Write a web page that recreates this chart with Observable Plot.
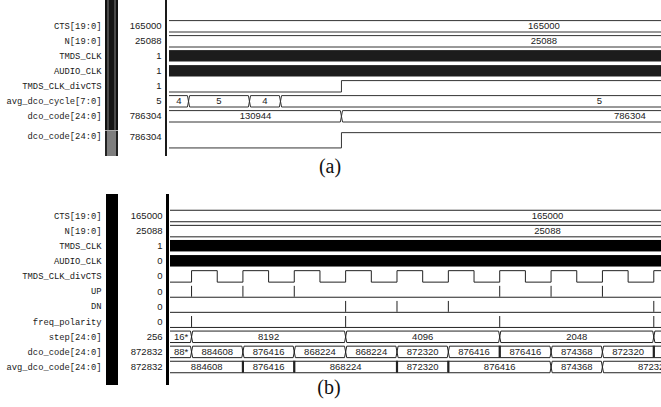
<!DOCTYPE html>
<html><head><meta charset="utf-8">
<script src="https://cdn.jsdelivr.net/npm/d3@7"></script>
<script src="https://cdn.jsdelivr.net/npm/@observablehq/plot@0.6"></script>
<style>
html,body{margin:0;padding:0;background:#fff;}
#root{position:relative;width:661px;height:407px;overflow:hidden;background:#fff;}
#root svg{position:absolute;left:0;}
.chrome{position:absolute;}
.cap{position:absolute;font-family:"Liberation Serif","Times New Roman",serif;font-size:20px;line-height:1;color:#111;transform:translate(-50%,-50%);white-space:nowrap;}
</style></head><body><div id="root"></div>
<script>
// ================= DATA =================
// ---- panel (a) : time in arbitrary units, visible window 0 .. 65.7, run ends at 100
const aStart = 0, aEnd = 100, aViewEnd = 65.7;
const aNames  = ["CTS[19:0]","N[19:0]","TMDS_CLK","AUDIO_CLK","TMDS_CLK_divCTS","avg_dco_cycle[7:0]","dco_code[24:0]","dco_code[24:0]"];
const aValues = ["165000","25088","1","1","1","5","786304","786304"];
const aKinds  = ["bus","bus","clock","clock","digital","bus","bus","analog"];
const aCtsLabels = ["165000"];
const aNLabels = ["25088"];
const aDivCtsEdges = [22.96];
const aAvgCycleEdges = [2.54, 10.68, 14.82];
const aAvgCycleLabels = ["4","5","4","5"];
const aDcoEdges = [22.96];
const aDcoLabels = ["130944","786304"];
const aDcoAnalogEdges = [22.96];

// ---- panel (b) : time in TMDS_CLK_divCTS periods, visible window -0.41 .. 9.15, run ends at 14.27
const bStart = -0.41, bEnd = 14.27, bViewEnd = 9.15;
const bNames  = ["CTS[19:0]","N[19:0]","TMDS_CLK","AUDIO_CLK","TMDS_CLK_divCTS","UP","DN","freq_polarity","step[24:0]","dco_code[24:0]","avg_dco_code[24:0]"];
const bValues = ["165000","25088","1","0","0","0","0","0","256","872832","872832"];
const bKinds  = ["bus","bus","clock","clock","digital","pulse","pulse","pulse","bus","bus","bus"];
const bCtsLabels = ["165000"];
const bNLabels = ["25088"];
const bDivCtsEdges = [0,0.5,1,1.5,2,2.5,3,3.5,4,4.5,5,5.5,6,6.5,7,7.5,8,8.5,9,9.5];
const bUpPulses = [0,1,2,6,7,8];
const bDnPulses = [3,4,5,9];
const bFreqPolPulses = [0,3,6,9];
const bStepEdges = [0,3,6,9];
const bStepLabels = ["16*","8192","4096","2048","1024"];
const bDcoEdges = [0,1,2,3,4,5,6,7,8,9];
const bDcoLabels = ["88*","884608","876416","868224","868224","872320","876416","876416","874368","872320","872320"];
const bDcoHeld = [6,9];
const bAvgEdges = [1,2,4,5,7,8,10];
const bAvgLabels = ["884608","876416","868224","872320","876416","874368","872320","872832"];
const bAvgHeld = [1,2,4,5];

// ================= SIGNAL TABLES =================
const aSignals = [
  {edges: [], labels: aCtsLabels},
  {edges: [], labels: aNLabels},
  {},
  {},
  {init: 0, edges: aDivCtsEdges},
  {edges: aAvgCycleEdges, labels: aAvgCycleLabels},
  {edges: aDcoEdges, labels: aDcoLabels},
  {init: 0, edges: aDcoAnalogEdges}
].map((s, i) => ({...s, name: aNames[i], value: aValues[i], kind: aKinds[i]}));

const bSignals = [
  {edges: [], labels: bCtsLabels},
  {edges: [], labels: bNLabels},
  {},
  {},
  {init: 0, edges: bDivCtsEdges},
  {pulses: bUpPulses},
  {pulses: bDnPulses},
  {pulses: bFreqPolPulses},
  {edges: bStepEdges, labels: bStepLabels},
  {edges: bDcoEdges, labels: bDcoLabels, held: bDcoHeld},
  {edges: bAvgEdges, labels: bAvgLabels, held: bAvgHeld}
].map((s, i) => ({...s, name: bNames[i], value: bValues[i], kind: bKinds[i]}));

// ================= RENDER =================
const FONT_NAME = '"Liberation Mono","DejaVu Sans Mono",monospace';
const FONT_VAL = '"Liberation Sans","DejaVu Sans",sans-serif';

function panel(cfg) {
  const {signals, start, end, viewEnd, width, height, marginLeft, yDomain, nameDx, valueDx, clockFill, stroke} = cfg;
  const d = 1.1 * (viewEnd - start) / (width - marginLeft);
  const H = 0.38, HT = 0.51;
  const outline = [], labels = [], held = [], clocks = [], levels = [], ticks = [], left = [];
  let r = -1;
  const t0 = start - 1, t1 = end;
  signals.forEach((s, i) => {
    const tall = s.kind === "analog";
    r += tall ? 1.6 : 1;
    const h = tall ? HT : H;
    left.push({name: s.name, value: s.value, y: tall ? r - 0.25 : r});
    if (s.kind === "bus") {
      const b = [t0, ...s.edges, t1];
      const hs = new Set(s.held || []);
      for (let k = 0; k < b.length - 1; k++) {
        const a0 = b[k], a1 = b[k + 1];
        const e0 = (k === 0 || hs.has(a0)) ? 0 : d;
        const e1 = (k === b.length - 2 || hs.has(a1)) ? 0 : d;
        const id = i + ":" + k;
        for (const [t, y] of [[a0, r], [a0 + e0, r - h], [a1 - e1, r - h], [a1, r], [a1 - e1, r + h], [a0 + e0, r + h], [a0, r]])
          outline.push({id, t, y});
        const c = ((k === 0 ? start : a0) + a1) / 2;
        if (c <= viewEnd) labels.push({t: c, y: r, label: s.labels[k] || ""});
      }
      (s.held || []).forEach(t => held.push({t, y1: r - h, y2: r + h}));
    } else if (s.kind === "clock") {
      clocks.push({x1: t0, x2: t1, y1: r - h, y2: r + h});
    } else if (s.kind === "digital" || s.kind === "analog") {
      let lv = s.init;
      const id = "d" + i;
      levels.push({id, t: t0, y: lv ? r - h : r + h});
      for (const e of s.edges) { lv = 1 - lv; levels.push({id, t: e, y: lv ? r - h : r + h}); }
      levels.push({id, t: t1, y: lv ? r - h : r + h});
    } else if (s.kind === "pulse") {
      const id = "p" + i;
      levels.push({id, t: t0, y: r + h}, {id, t: t1, y: r + h});
      s.pulses.forEach(p => ticks.push({t: p, y1: r + h, y2: r - 0.9 * h}));
    }
  });
  return Plot.plot({
    width, height, marginLeft, marginRight: 0, marginTop: 0, marginBottom: 0,
    style: {background: "transparent", overflow: "visible"},
    x: {domain: [start, viewEnd], axis: null},
    y: {domain: yDomain, reverse: true, axis: null},
    marks: [
      Plot.rect(clocks, {x1: "x1", x2: "x2", y1: "y1", y2: "y2", fill: clockFill, clip: true}),
      Plot.line(outline, {x: "t", y: "y", z: "id", stroke, strokeWidth: 1, clip: true}),
      Plot.line(levels, {x: "t", y: "y", z: "id", curve: "step-after", stroke, strokeWidth: 1, clip: true}),
      Plot.ruleX(ticks, {x: "t", y1: "y1", y2: "y2", stroke, strokeWidth: 1, clip: true}),
      Plot.ruleX(held, {x: "t", y1: "y1", y2: "y2", stroke, strokeWidth: 2.2, clip: true}),
      Plot.text(labels, {x: "t", y: "y", text: "label", fontFamily: FONT_VAL, fontSize: 9.5, fill: "#222", clip: true}),
      Plot.text(left, {frameAnchor: "left", y: "y", text: "name", textAnchor: "end", dx: nameDx, fontFamily: FONT_NAME, fontSize: 8.8, fill: "#1a1a1a"}),
      Plot.text(left, {frameAnchor: "left", y: "y", text: "value", textAnchor: "end", dx: valueDx, fontFamily: FONT_VAL, fontSize: 9.5, fill: "#1a1a1a"})
    ]
  });
}

const root = document.getElementById("root");

const svgA = panel({
  signals: aSignals, start: aStart, end: aEnd, viewEnd: aViewEnd,
  width: 661, height: 156, marginLeft: 169, yDomain: [-1.72, 8.68],
  nameDx: -68, valueDx: -8, clockFill: "#1c1c1c", stroke: "#333"
});
svgA.style.top = "0px";
root.appendChild(svgA);

const svgB = panel({
  signals: bSignals, start: bStart, end: bEnd, viewEnd: bViewEnd,
  width: 661, height: 191, marginLeft: 170, yDomain: [-1.424, 11.225],
  nameDx: -69, valueDx: -8, clockFill: "#000", stroke: "#222"
});
svgB.style.top = "194px";
root.appendChild(svgB);

// ---- viewer chrome (scrollbars, separators) and captions
function box(css) { const e = document.createElement("div"); e.className = "chrome"; Object.assign(e.style, css); root.appendChild(e); return e; }
box({left: "105px", top: "0px", width: "13px", height: "130px",
  background: "linear-gradient(to right,#111 0,#111 2px,#4a4a4a 2px,#4a4a4a 4px,#151515 4px,#151515 9px,#4a4a4a 9px,#4a4a4a 11px,#111 11px)"});
box({left: "105px", top: "130px", width: "13px", height: "26px",
  background: "linear-gradient(to right,#222 0,#222 2px,#7e7e7e 2px,#7e7e7e 11px,#222 11px)", borderTop: "1px solid #aaa", boxSizing: "border-box"});
box({left: "164.5px", top: "0px", width: "2.5px", height: "156px", background: "#1a1a1a"});
box({left: "106px", top: "194px", width: "12px", height: "191px", background: "#000"});
box({left: "166px", top: "194px", width: "2.5px", height: "191px", background: "#000"});

function cap(text, x, y) { const e = document.createElement("div"); e.className = "cap"; e.textContent = text; e.style.left = x + "px"; e.style.top = y + "px"; root.appendChild(e); }
cap("(a)", 330, 165.5);
cap("(b)", 329, 386.5);
</script></body></html>
